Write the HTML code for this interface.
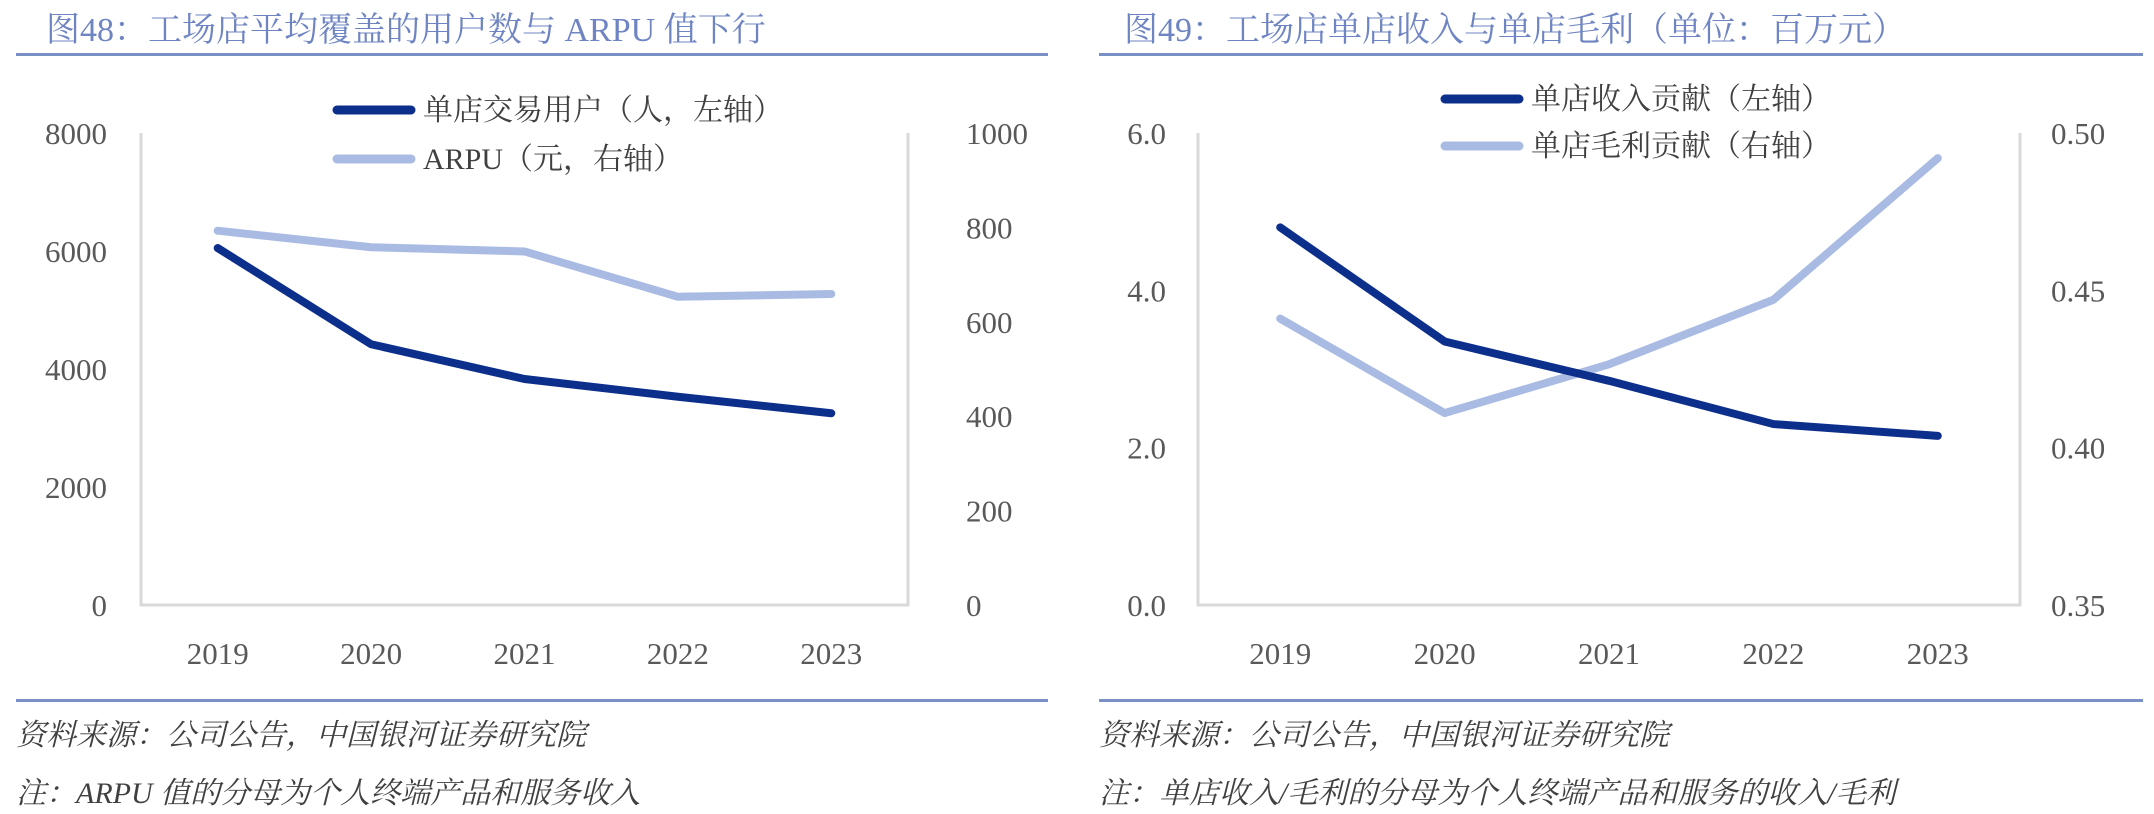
<!DOCTYPE html>
<html><head><meta charset="utf-8">
<style>
html,body{margin:0;padding:0;background:#fff;}
body{width:2154px;height:814px;position:relative;overflow:hidden;font-family:"Liberation Serif","Noto Serif CJK SC",serif;}
svg{position:absolute;left:0;top:0;}
</style></head>
<body>
<svg id="chart" width="2154" height="814"></svg>
<script>
const categories=["2019","2020","2021","2022","2023"];
const usersValues=[6050,4420,3830,3530,3250];
const arpuValues=[793,758,749,653,659];
const revenueValues=[4.8,3.35,2.85,2.3,2.15];
const profitValues=[0.441,0.411,0.4265,0.447,0.492];
const leftTicks1=[0,2000,4000,6000,8000];
const rightTicks1=[0,200,400,600,800,1000];
const leftTicks2=[0.0,2.0,4.0,6.0];
const rightTicks2=[0.35,0.40,0.45,0.50];

const NS="http://www.w3.org/2000/svg";
const svg=document.getElementById('chart');
function mk(tag,attrs,parent){const e=document.createElementNS(NS,tag);for(const k in attrs)e.setAttribute(k,attrs[k]);(parent||svg).appendChild(e);return e;}
function txt(s,attrs,parent){const e=mk('text',attrs,parent);e.textContent=s;return e;}
const DARK="#0d2f8c",LIGHT="#a9bbe3",AX="#d9d9d9",LAB="#595959",RULE="#7a8fc6";

function panel(o){
  const g=mk('g',{});
  
  
  let t=txt(o.title,{x:o.tx,y:41,'font-size':34,fill:"#6f84c2"},g);
  
  let r=mk('rect',{x:o.rx0,y:53,width:o.rx1-o.rx0,height:3,fill:RULE},g);
  
  r=mk('rect',{x:o.rx0,y:699,width:o.rx1-o.rx0,height:3,fill:RULE},g);
  
  t=txt(o.src,{x:o.rx0,y:745,'font-size':30,fill:"#404040",'font-style':'italic'},g);
  
  t=txt(o.note,{x:o.rx0,y:803,'font-size':30,fill:"#404040",'font-style':'italic'},g);
  
  const L=o.L,R=o.R,T=133,B=605;
  const yl=v=>B-(v-o.lmin)/(o.lmax-o.lmin)*(B-T);
  const yr=v=>B-(v-o.rmin)/(o.rmax-o.rmin)*(B-T);
  const xs=i=>L+(R-L)/categories.length*(i+0.5);
  let a=mk('polyline',{points:`${L},${T} ${L},${B} ${R},${B} ${R},${T}`,fill:'none',stroke:AX,'stroke-width':3},g);
  
  o.lt.forEach(v=>{const e=txt(o.lf(v),{x:o.lx,y:yl(v)+11,'font-size':31,fill:LAB,'text-anchor':'end'},g);
    });
  o.rt.forEach(v=>{const e=txt(o.rf(v),{x:o.rlx,y:yr(v)+11,'font-size':31,fill:LAB},g);
    });
  categories.forEach((c,i)=>{const e=txt(c,{x:xs(i),y:664,'font-size':31,fill:LAB,'text-anchor':'middle'},g);
    });
  let p=mk('polyline',{points:o.s2.map((v,i)=>xs(i)+','+yr(v)).join(' '),fill:'none',stroke:LIGHT,'stroke-width':8,'stroke-linecap':'round','stroke-linejoin':'round'},g);
  
  p=mk('polyline',{points:o.s1.map((v,i)=>xs(i)+','+yl(v)).join(' '),fill:'none',stroke:DARK,'stroke-width':8,'stroke-linecap':'round','stroke-linejoin':'round'},g);
  
  [[o.lg1,DARK,o.ly1],[o.lg2,LIGHT,o.ly2]].forEach(([s,c,y])=>{
    const l=mk('line',{x1:o.lgx,y1:y,x2:o.lgx+74,y2:y,stroke:c,'stroke-width':9,'stroke-linecap':'round'},g);
    
    const e=txt(s,{x:o.lgx+86,y:y+10,'font-size':30,fill:"#404040"},g);
    
  });
}
panel({name:'chart-users-arpu',title:'图48：工场店平均覆盖的用户数与 ARPU 值下行',tx:46,rx0:16,rx1:1048,
  src:'资料来源：公司公告，中国银河证券研究院',note:'注：ARPU 值的分母为个人终端产品和服务收入',
  L:141,R:908,lmin:0,lmax:8000,rmin:0,rmax:1000,lt:leftTicks1,rt:rightTicks1,lf:v=>String(v),rf:v=>String(v),
  lx:107,rlx:966,s1:usersValues,s2:arpuValues,lg1:'单店交易用户（人，左轴）',lg2:'ARPU（元，右轴）',lgx:337,ly1:110,ly2:159});
panel({name:'chart-revenue-profit',title:'图49：工场店单店收入与单店毛利（单位：百万元）',tx:1124,rx0:1099,rx1:2143,
  src:'资料来源：公司公告，中国银河证券研究院',note:'注：单店收入/毛利的分母为个人终端产品和服务的收入/毛利',
  L:1198,R:2020,lmin:0,lmax:6,rmin:0.35,rmax:0.50,lt:leftTicks2,rt:rightTicks2,lf:v=>v.toFixed(1),rf:v=>v.toFixed(2),
  lx:1166,rlx:2051,s1:revenueValues,s2:profitValues,lg1:'单店收入贡献（左轴）',lg2:'单店毛利贡献（右轴）',lgx:1445,ly1:99,ly2:146});
</script>
</body></html>
